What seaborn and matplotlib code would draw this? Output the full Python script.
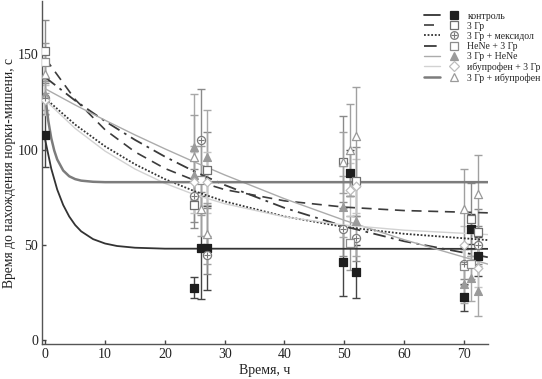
import matplotlib
matplotlib.use("Agg")
import matplotlib.pyplot as plt
import seaborn as sns
import pandas as pd
from matplotlib.lines import Line2D
from matplotlib.legend_handler import HandlerTuple

# ---------------- data ----------------
labels = ["контроль", "3 Гр", "3 Гр + мексидол", "HeNe + 3 Гр",
          "3 Гр + HeNe", "ибупрофен + 3 Гр", "3 Гр + ибупрофен"]

# measured points: time (h), mean (s), error (s)
t_ctrl = [0, 24.8, 26.0, 27.1, 49.8, 50.9, 52.0, 70.1, 71.2, 72.4]
y_ctrl = [108, 27.5, 48.5, 48.5, 41, 88, 36, 22.5, 58.5, 44]
e_ctrl = [17, 5.5, 27, 22, 18, 12, 14, 7, 8, 10]

t_3gr = [0, 24.8, 27.1, 49.8, 52.0, 71.2, 72.4]
y_3gr = [152, 71, 89.5, 93.5, 83.5, 63.5, 57]
e_3gr = [16, 12, 20, 24, 18, 19, 12]

t_mex = [0, 24.8, 26.0, 27.1, 49.8, 52.0, 70.1, 72.4]
y_mex = [127, 76, 105, 45, 58.5, 53.5, 40, 50]
e_mex = [8, 14, 27, 10, 14, 12, 8, 10]

t_hene1 = [0, 26.0, 50.9, 70.1, 71.2]
y_hene1 = [146, 84, 51, 39, 40]
e_hene1 = [10, 18, 14, 10, 8]

t_hene2 = [0, 24.8, 24.8, 27.1, 49.8, 52.0, 70.1, 71.2, 72.4]
y_hene2 = [129, 101.5, 87, 96, 70, 62.5, 29.5, 32.5, 26]
e_hene2 = [8, 28, 15, 25, 16, 18, 10, 12, 13]

t_ibu1 = [0, 24.8, 27.1, 50.9, 52.0, 70.1, 72.4]
y_ibu1 = [126, 83, 83, 79, 81, 50, 38]
e_ibu1 = [8, 16, 16, 14, 14, 10, 10]

t_ibu2 = [0, 24.8, 26.0, 27.1, 49.8, 50.9, 52.0, 70.1, 72.4]
y_ibu2 = [140, 96, 69, 56, 93.5, 100, 107, 69, 77]
e_ibu2 = [10, 22, 14, 16, 16, 24, 26, 21, 20]

# fitted curves, values
ct_ctrl = [0, 1, 2, 3, 4, 5, 6, 8, 10, 12, 15, 20, 74]
cv_ctrl = [105, 90.1, 79.1, 71.0, 65.0, 60.5, 57.2, 53.1, 50.8, 49.5, 48.6, 48.1, 48]

ct_ibu2 = [0, 0.5, 1, 1.5, 2, 3, 4, 5, 6, 8, 10, 74]
cv_ibu2 = [128, 115.3, 106.1, 99.6, 94.9, 89.1, 86.1, 84.6, 83.8, 83.2, 83, 83]

ct_slow = [0, 5, 10, 15, 20, 25, 30, 40, 50, 60, 74]
cv_3gr = [148, 126.4, 110.5, 98.9, 90.2, 83.9, 79.1, 73.2, 69.9, 68.1, 66.9]
cv_mex = [127, 113.2, 101.8, 92.4, 84.6, 78.2, 72.9, 65.0, 59.5, 55.9, 52.6]
cv_hene1 = [138, 125.8, 115.0, 105.2, 96.4, 88.5, 81.5, 69.5, 59.8, 52.0, 43.6]
cv_hene2 = [132, 123.5, 115.5, 107.8, 100.5, 93.5, 86.8, 74.3, 63.0, 52.8, 40.0]
cv_ibu1 = [126, 111.2, 99.3, 89.9, 82.4, 76.4, 71.7, 64.8, 60.5, 57.8, 55.5]

x_ticks = [0, 10, 20, 30, 40, 50, 60, 70]
y_ticks = [0, 50, 100, 150]


class Overlay(tuple):
    """Legend handle whose parts are drawn on top of each other."""
    pass


# ---------------- styling ----------------
sns.set_style("ticks")
plt.rcParams["font.family"] = ["Liberation Serif", "DejaVu Serif"]

fig = plt.figure(figsize=(5.42, 3.79), dpi=100)
ax = fig.add_axes([0.078, 0.092, 0.822, 0.905])

groups = [
    dict(t=t_ctrl, y=y_ctrl, e=e_ctrl, ct=ct_ctrl, cv=cv_ctrl,
         lc="#333333", ls="-", lw=1.3, m="s", mfc="#1e1e1e", mec="#1e1e1e", ms=30, ecol="#444444"),
    dict(t=t_3gr, y=y_3gr, e=e_3gr, ct=ct_slow, cv=cv_3gr,
         lc="#3c3c3c", ls=(0, (6, 4)), lw=1.2, m="s", mfc="white", mec="#707070", ms=30, ecol="#8a8a8a"),
    dict(t=t_mex, y=y_mex, e=e_mex, ct=ct_slow, cv=cv_mex,
         lc="#333333", ls=(0, (1, 1)), lw=1.3, m="o", mfc="white", mec="#7a7a7a", ms=34, ecol="#8a8a8a"),
    dict(t=t_hene1, y=y_hene1, e=e_hene1, ct=ct_slow, cv=cv_hene1,
         lc="#3a3a3a", ls=(0, (7, 3, 1.5, 3)), lw=1.3, m="s", mfc="white", mec="#8c8c8c", ms=30, ecol="#9a9a9a"),
    dict(t=t_hene2, y=y_hene2, e=e_hene2, ct=ct_slow, cv=cv_hene2,
         lc="#ababab", ls="-", lw=1.0, m="^", mfc="#9a9a9a", mec="#9a9a9a", ms=32, ecol="#a8a8a8"),
    dict(t=t_ibu1, y=y_ibu1, e=e_ibu1, ct=ct_slow, cv=cv_ibu1,
         lc="#d2d2d2", ls="-", lw=1.0, m="D", mfc="white", mec="#bdbdbd", ms=20, ecol="#c4c4c4"),
    dict(t=t_ibu2, y=y_ibu2, e=e_ibu2, ct=ct_ibu2, cv=cv_ibu2,
         lc="#7c7c7c", ls="-", lw=1.8, m="^", mfc="white", mec="#9a9a9a", ms=34, ecol="#a0a0a0"),
]

handles = []
for g, lab in zip(groups, labels):
    ax.errorbar(g["t"], g["y"], yerr=g["e"], fmt="none", ecolor=g["ecol"],
                elinewidth=1.0, capsize=3, capthick=1.0, zorder=1)
    dfc = pd.DataFrame({"t": g["ct"], "v": g["cv"]})
    sns.lineplot(data=dfc, x="t", y="v", ax=ax, color=g["lc"], linestyle=g["ls"],
                 linewidth=g["lw"], estimator=None, sort=False, zorder=2)
    dfp = pd.DataFrame({"t": g["t"], "y": g["y"]})
    sns.scatterplot(data=dfp, x="t", y="y", ax=ax, marker=g["m"], s=g["ms"],
                    facecolor=g["mfc"], edgecolor=g["mec"], linewidth=0.9, zorder=3)
    lh = Line2D([], [], color=g["lc"], linestyle=g["ls"], linewidth=g["lw"])
    mh = Line2D([], [], linestyle="none", marker=g["m"], markersize=5.5,
                markerfacecolor=g["mfc"], markeredgecolor=g["mec"], markeredgewidth=0.9)
    if lab == "3 Гр + мексидол":
        sns.scatterplot(data=dfp, x="t", y="y", ax=ax, marker="+", s=18,
                        color=g["mec"], linewidth=0.8, zorder=4)
        ph = Line2D([], [], linestyle="none", marker="+", markersize=4,
                    color=g["mec"], markeredgewidth=0.8)
        handles.append((lh, Overlay((mh, ph))))
    else:
        handles.append((lh, mh))

ax.set_xlim(-0.5, 74)
ax.set_ylim(-2, 178)
ax.set_xticks(x_ticks)
ax.set_yticks(y_ticks)
ax.tick_params(direction="in", length=3, width=1, colors="#444444",
               labelcolor="#222222", labelsize=10, pad=3)
for s in ["top", "right"]:
    ax.spines[s].set_visible(False)
for s in ["left", "bottom"]:
    ax.spines[s].set_color("#555555")
    ax.spines[s].set_linewidth(1.0)
ax.set_xlabel("Время, ч", fontsize=10, color="#222222", labelpad=2)
ax.set_ylabel("Время до нахождения норки-мишени, с", fontsize=9.8, color="#222222", labelpad=1)

fig.legend(handles, labels,
           handler_map={Overlay: HandlerTuple(ndivide=1),
                        tuple: HandlerTuple(ndivide=None, pad=0.6)},
           loc="upper right", bbox_to_anchor=(1.012, 0.99), frameon=False,
           fontsize=7.0, handlelength=4.0, handletextpad=0.5, labelspacing=0.12,
           borderpad=0.3)

fig.savefig("out.png", dpi=100)
